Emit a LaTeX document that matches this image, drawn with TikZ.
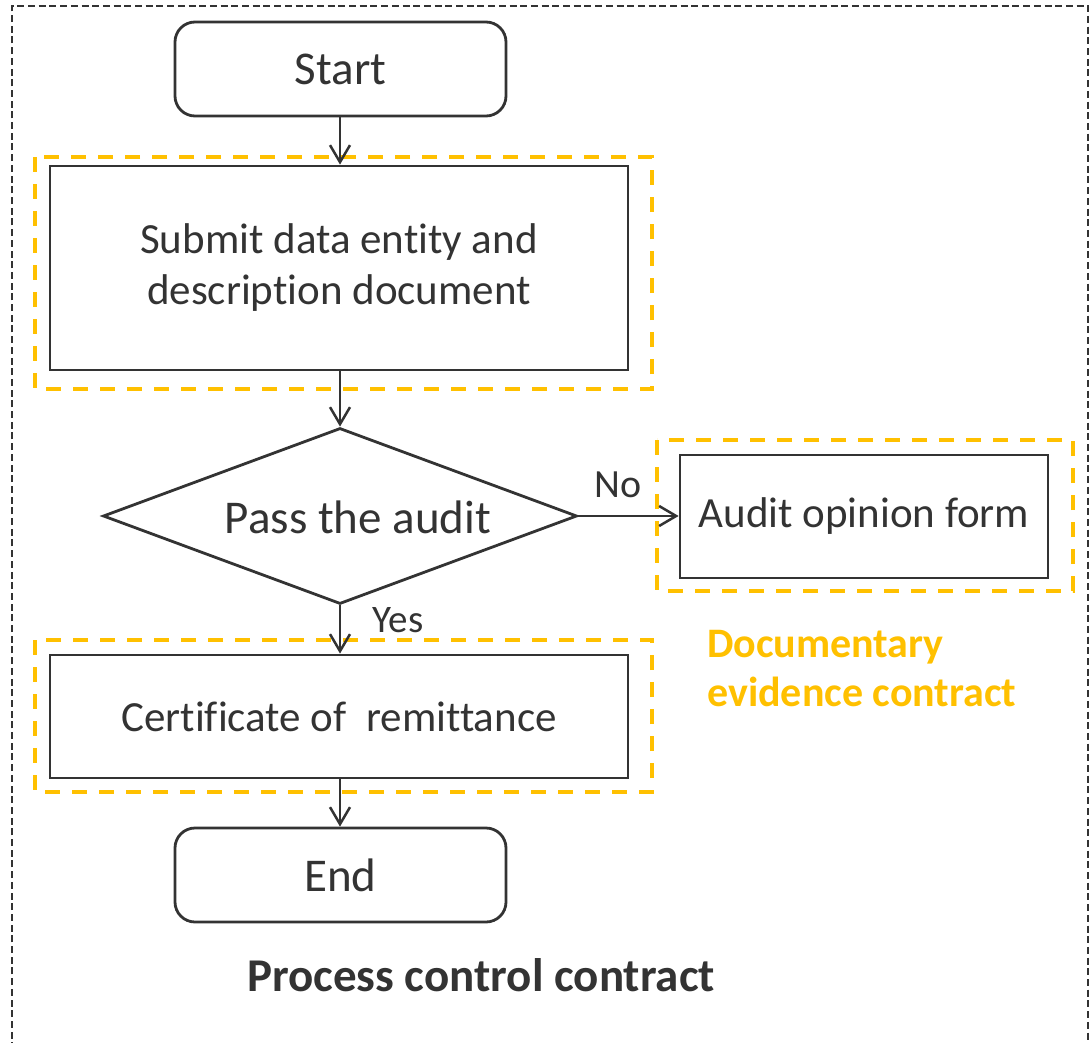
\documentclass[tikz,border=0pt]{standalone}
\usepackage{fontspec}
\setmainfont{Carlito}[RawFeature={-liga;-calt;-clig;-dlig}]
\usetikzlibrary{arrows.meta,shapes.geometric}
\definecolor{ink}{HTML}{333333}
\definecolor{amber}{HTML}{FFC000}
\tikzset{
  flowline/.style={draw=ink, line width=2.8pt},
  flowbox/.style={flowline, rectangle, inner sep=0pt, text=ink},
  terminal/.style={flowbox, rounded corners=20pt, minimum width=331pt, minimum height=94pt,
    font=\fontsize{47}{56}\selectfont},
  procbox/.style={flowbox, minimum width=578pt, font=\fontsize{43}{51}\selectfont},
  decision/.style={flowline, diamond, inner sep=0pt, minimum width=474pt, minimum height=176pt,
    shape aspect=2.69},
  flowarrow/.style={draw=ink, line width=2.5pt, -{Straight Barb[length=17pt,width=20pt,line width=2.5pt]}},
  groupframe/.style={draw=amber, line width=4pt, dash pattern=on 15pt off 12pt},
  outerframe/.style={draw=ink, line width=2.5pt, dash pattern=on 7pt off 3.7pt},
  lbl/.style={text=ink, inner sep=0pt}
}
\begin{document}
\begin{tikzpicture}[x=1pt,y=-1pt]
\useasboundingbox (0,0) rectangle (1089,1043);

% outer dashed frame
\draw[outerframe] (12,1060) -- (12,6) -- (1088,6) -- (1088,1060);

% dashed amber groups
\draw[groupframe] (35,157) rectangle (652,389);
\draw[groupframe] (657,440) rectangle (1073,591);
\draw[groupframe] (35,640) rectangle (652,792);

% flow nodes
\node[terminal] (start) at (340.5,69) {Start};
\node[procbox, minimum height=204pt, align=center] (submit) at (339,268)
  {Submit data entity and\\description document};
\node[decision] (audit) at (340,516) {};
\node[lbl, font=\fontsize{47}{56}\selectfont] (audittext) at (358,517) {Pass the audit};
\node[procbox, minimum width=368pt, minimum height=123pt] (opinion) at (864,516.5) {Audit opinion form};
\node[procbox, minimum height=123pt] (cert) at (339,716.5) {Certificate of\ \ remittance};
\node[terminal] (end) at (340.5,875) {End};

% connectors
\draw[flowarrow] (start.south -| audit.north) -- (submit.north -| audit.north);
\draw[flowarrow] (submit.south -| audit.north) -- (audit.north);
\draw[flowarrow] (audit.east) -- (opinion.west |- audit.east);
\draw[flowarrow] (audit.south) -- (cert.north -| audit.south);
\draw[flowarrow] (cert.south -| audit.south) -- (end.north -| audit.south);

% branch labels
\node[lbl, font=\fontsize{40}{48}\selectfont] (nolbl) at (618,485) {No};
\node[lbl, font=\fontsize{39}{48}\selectfont] (yeslbl) at (398,620) {Yes};

% group captions
\node[anchor=west, inner sep=0pt, text=amber, align=left, font=\bfseries\fontsize{42}{49}\selectfont]
  (evidence) at (707,669) {Documentary\\evidence contract};
\node[lbl, font=\bfseries\fontsize{47}{56}\selectfont] (process) at (481,975) {Process control contract};
\end{tikzpicture}
\end{document}
